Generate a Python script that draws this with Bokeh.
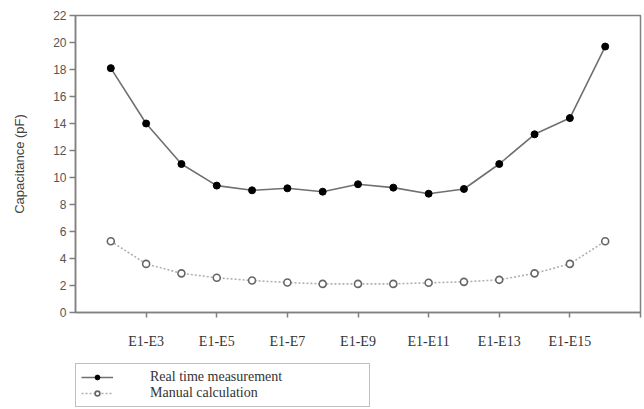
from bokeh.plotting import figure
from bokeh.layouts import column
from bokeh.models import Range1d, FixedTicker, Legend, LegendItem
from bokeh.embed import file_html
from bokeh.resources import INLINE

categories = ["E1-E2", "E1-E3", "E1-E4", "E1-E5", "E1-E6", "E1-E7", "E1-E8", "E1-E9",
              "E1-E10", "E1-E11", "E1-E12", "E1-E13", "E1-E14", "E1-E15", "E1-E16"]
real_time = [18.1, 14.0, 11.0, 9.4, 9.05, 9.2, 8.95, 9.5, 9.25, 8.8, 9.15, 11.0, 13.2, 14.4, 19.7]
manual = [5.28, 3.6, 2.9, 2.57, 2.37, 2.22, 2.12, 2.12, 2.12, 2.2, 2.27, 2.42, 2.9, 3.6, 5.28]
tick_labels = ["E1-E3", "E1-E5", "E1-E7", "E1-E9", "E1-E11", "E1-E13", "E1-E15"]
y_ticks = list(range(0, 23, 2))
series_names = ["Real time measurement", "Manual calculation"]

xs = list(range(len(categories)))
tick_pos = [categories.index(t) for t in tick_labels]

real_line = dict(line_color="#707070", line_width=1.6)
real_mark = dict(marker="circle", size=7, fill_color="black", line_color="black")
man_line = dict(line_color="#b0b0b0", line_width=1.6, line_dash="2 2")
man_mark = dict(marker="circle", size=7, fill_color="white", line_color="#666666", line_width=1.6)

p = figure(width=644, height=356, output_backend="svg", toolbar_location=None,
           x_range=Range1d(-1, len(categories)), y_range=Range1d(0, 22),
           min_border_left=75, min_border_right=4, min_border_top=15, min_border_bottom=44)

p.grid.visible = False
p.background_fill_color = "white"
p.border_fill_color = "white"
p.outline_line_color = "#808080"
p.outline_line_width = 1.5

# x axis
xa = p.xaxis[0]
xa.ticker = FixedTicker(ticks=tick_pos + [len(categories)])
overrides = {pos: lab for pos, lab in zip(tick_pos, tick_labels)}
overrides[len(categories)] = ""
xa.major_label_overrides = overrides
xa.minor_tick_line_color = None
xa.major_tick_in = 0
xa.major_tick_out = 5
xa.axis_line_color = "#808080"
xa.axis_line_width = 1.5
xa.major_tick_line_color = "#808080"
xa.major_tick_line_width = 1.5
xa.major_label_text_font = "Liberation Serif"
xa.major_label_text_font_size = "14px"
xa.major_label_text_color = "#333333"
xa.major_label_standoff = 16

# y axis
ya = p.yaxis[0]
ya.ticker = FixedTicker(ticks=y_ticks)
ya.minor_tick_line_color = None
ya.major_tick_in = 0
ya.major_tick_out = 6
ya.axis_line_color = "#808080"
ya.axis_line_width = 1.5
ya.major_tick_line_color = "#808080"
ya.major_tick_line_width = 1.5
ya.major_label_text_font = "Liberation Sans"
ya.major_label_text_font_size = "12px"
ya.major_label_text_color = "#555555"
ya.major_label_standoff = 3
ya.axis_label = "Capacitance (pF)"
ya.axis_label_text_font = "Liberation Sans"
ya.axis_label_text_font_size = "13px"
ya.axis_label_text_font_style = "normal"
ya.axis_label_text_color = "#444444"
ya.axis_label_standoff = 23

p.line(xs, real_time, **real_line)
p.scatter(xs, real_time, **real_mark)
p.line(xs, manual, **man_line)
p.scatter(xs, manual, **man_mark)

# legend strip below the chart (its renderers lie outside its visible range)
q = figure(width=644, height=53, output_backend="svg", toolbar_location=None,
           x_range=Range1d(-1, len(categories)), y_range=Range1d(-100, -99),
           min_border_left=0, min_border_right=0, min_border_top=0, min_border_bottom=0)
q.axis.visible = False
q.grid.visible = False
q.outline_line_color = None
q.background_fill_color = "white"
q.border_fill_color = "white"
l1 = q.line(xs, real_time, **real_line)
m1 = q.scatter(xs, real_time, **real_mark)
l2 = q.line(xs, manual, **man_line)
m2 = q.scatter(xs, manual, **man_mark)

legend = Legend(items=[LegendItem(label=series_names[0], renderers=[l1, m1]),
                       LegendItem(label=series_names[1], renderers=[l2, m2])],
                location=(0, 2), margin=0, padding=5, spacing=-8,
                glyph_width=32, glyph_height=12, label_standoff=37, label_height=12,
                label_width=214,
                label_text_font="Liberation Serif", label_text_font_size="14px",
                label_text_color="#333333", label_text_line_height=0.8,
                border_line_color="#808080", border_line_width=1.5,
                background_fill_color="white")
q.add_layout(legend, "center")

layout = column(p, q, spacing=0)
open("out.html", "w").write(file_html(layout, INLINE))
